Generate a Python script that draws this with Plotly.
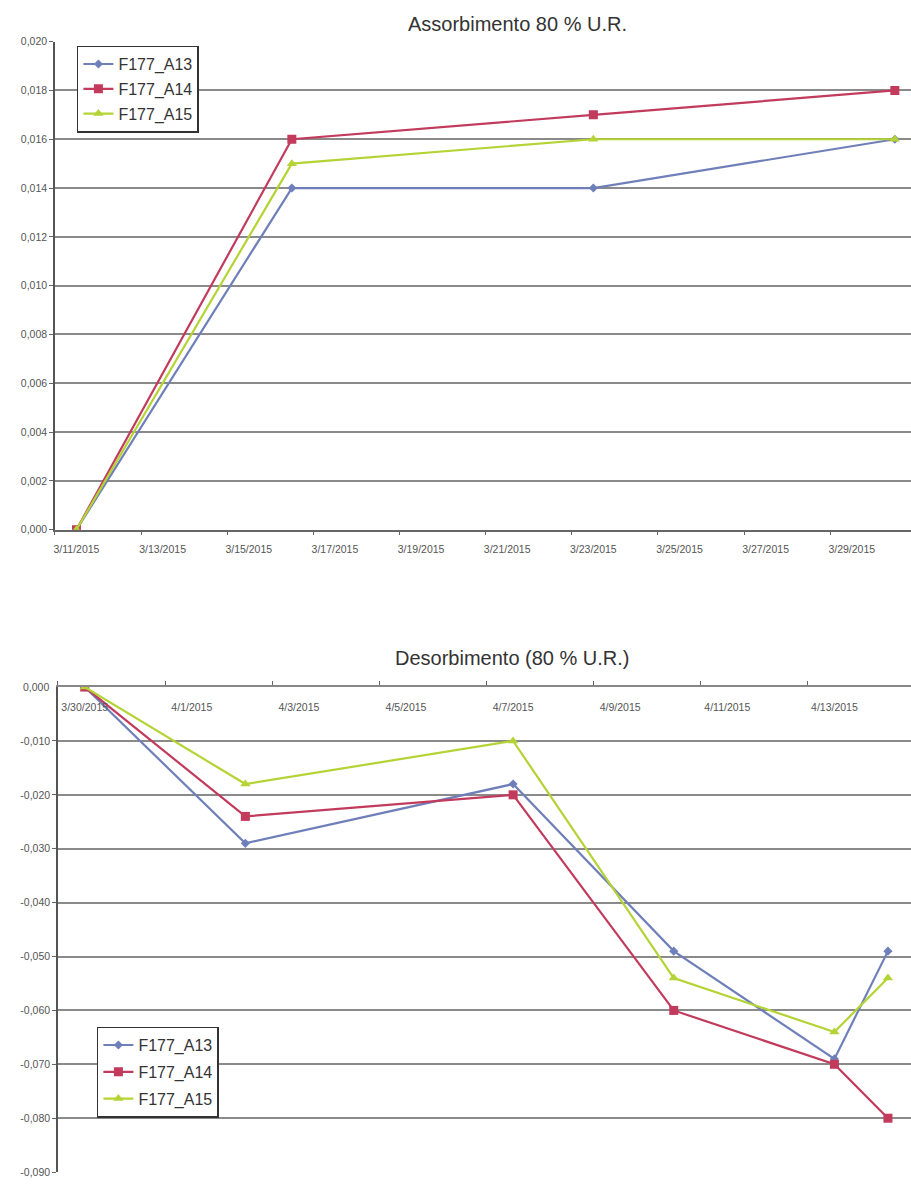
import pandas as pd
import plotly.graph_objects as go

# ---------------- data ----------------
series_names = ["F177_A13", "F177_A14", "F177_A15"]

abs_dates = ["2015-03-11", "2015-03-16", "2015-03-23", "2015-03-30"]
abs_A13 = [0.000, 0.014, 0.014, 0.016]
abs_A14 = [0.000, 0.016, 0.017, 0.018]
abs_A15 = [0.000, 0.015, 0.016, 0.016]

des_dates = ["2015-03-30", "2015-04-02", "2015-04-07", "2015-04-10", "2015-04-13", "2015-04-14"]
des_A13 = [0.000, -0.029, -0.018, -0.049, -0.069, -0.049]
des_A14 = [0.000, -0.024, -0.020, -0.060, -0.070, -0.080]
des_A15 = [0.000, -0.018, -0.010, -0.054, -0.064, -0.054]

abs_tick_dates = ["2015-03-11", "2015-03-13", "2015-03-15", "2015-03-17", "2015-03-19",
                  "2015-03-21", "2015-03-23", "2015-03-25", "2015-03-27", "2015-03-29"]
abs_tick_text = ["3/11/2015", "3/13/2015", "3/15/2015", "3/17/2015", "3/19/2015",
                 "3/21/2015", "3/23/2015", "3/25/2015", "3/27/2015", "3/29/2015"]
des_tick_dates = ["2015-03-30", "2015-04-01", "2015-04-03", "2015-04-05", "2015-04-07",
                  "2015-04-09", "2015-04-11", "2015-04-13"]
des_tick_text = ["3/30/2015", "4/1/2015", "4/3/2015", "4/5/2015", "4/7/2015",
                 "4/9/2015", "4/11/2015", "4/13/2015"]

abs_y_vals = [0.000, 0.002, 0.004, 0.006, 0.008, 0.010, 0.012, 0.014, 0.016, 0.018, 0.020]
abs_y_text = ["0,000", "0,002", "0,004", "0,006", "0,008", "0,010", "0,012", "0,014", "0,016", "0,018", "0,020"]
des_y_vals = [0.000, -0.010, -0.020, -0.030, -0.040, -0.050, -0.060, -0.070, -0.080, -0.090]
des_y_text = ["0,000", "-0,010", "-0,020", "-0,030", "-0,040", "-0,050", "-0,060", "-0,070", "-0,080", "-0,090"]

title_abs = "Assorbimento 80 % U.R."
title_des = "Desorbimento (80 % U.R.)"

# ---------------- style ----------------
colors = ["#6F7FB9", "#C23A5C", "#B4D334"]
symbols = ["diamond", "square", "triangle-up"]
msizes = [7, 9, 9]
W, H = 911, 1188
HALF = pd.Timedelta(hours=12)   # Excel plots each day at its centre


def centre(dates):
    return [pd.Timestamp(d) + HALF for d in dates]


def mid(dates):
    return [pd.Timestamp(d) for d in dates]


fig = go.Figure()
for i, ys in enumerate([abs_A13, abs_A14, abs_A15]):
    fig.add_trace(go.Scatter(
        x=centre(abs_dates), y=ys, name=series_names[i], mode="lines+markers",
        line=dict(color=colors[i], width=2.2),
        marker=dict(symbol=symbols[i], size=msizes[i], color=colors[i]),
        xaxis="x", yaxis="y", legend="legend", legendgroup="a%d" % i))
for i, ys in enumerate([des_A13, des_A14, des_A15]):
    fig.add_trace(go.Scatter(
        x=centre(des_dates), y=ys, name=series_names[i], mode="lines+markers",
        line=dict(color=colors[i], width=2.2),
        marker=dict(symbol=symbols[i], size=msizes[i], color=colors[i]),
        xaxis="x2", yaxis="y2", legend="legend2", legendgroup="d%d" % i))

tickfont = dict(family="Liberation Sans, Arial, sans-serif", size=10.5, color="#555")
gridc = "#8a8a8a"

fig.update_layout(
    width=W, height=H,
    margin=dict(l=0, r=0, t=0, b=0),
    paper_bgcolor="white", plot_bgcolor="white",
    font=dict(family="Liberation Sans, Arial, sans-serif", color="#333"),
    xaxis=dict(domain=[54 / W, 1], type="date",
               range=["2015-03-11 00:00", "2015-03-30 21:00"],
               tickmode="array", tickvals=centre(abs_tick_dates), ticktext=abs_tick_text,
               ticks="", tickfont=tickfont, showgrid=False, ticklabelstandoff=9,
               showline=True, linecolor="#666", linewidth=1.5,
               minor=dict(tickmode="array", tickvals=mid(abs_tick_dates), ticks="outside",
                          ticklen=4, tickcolor="#666", tickwidth=1, showgrid=False),
               anchor="y"),
    yaxis=dict(domain=[1 - 529 / H, 1 - 36 / H], range=[0, 0.020],
               tickmode="array", tickvals=abs_y_vals, ticktext=abs_y_text,
               ticks="outside", ticklen=4, tickcolor="#666", tickfont=tickfont,
               showgrid=True, gridcolor=gridc, gridwidth=1.8,
               showline=True, linecolor="#555", linewidth=1.5,
               zeroline=False, anchor="x"),
    xaxis2=dict(domain=[57 / W, 1], type="date",
                range=["2015-03-30 00:00", "2015-04-14 22:20"],
                side="top", ticklabelposition="inside", ticklabelstandoff=16,
                tickmode="array", tickvals=centre(des_tick_dates), ticktext=des_tick_text,
                ticks="", tickfont=tickfont, showgrid=False,
                showline=True, linecolor="#888", linewidth=1.5,
                minor=dict(tickmode="array", tickvals=mid(des_tick_dates), ticks="outside",
                           ticklen=4, tickcolor="#666", tickwidth=1, showgrid=False),
                anchor="y2"),
    yaxis2=dict(domain=[1 - 1178 / H, 1 - 688 / H], range=[-0.090, 0.0],
                tickmode="array", tickvals=des_y_vals, ticktext=des_y_text,
                ticks="outside", ticklen=4, tickcolor="#666", tickfont=tickfont,
                showgrid=True, gridcolor=gridc, gridwidth=1.8,
                showline=True, linecolor="#555", linewidth=1.5,
                zeroline=False, anchor="x2"),
    legend=dict(x=76 / W, y=1 - 40 / H, xanchor="left", yanchor="top",
                bgcolor="white", bordercolor="#333", borderwidth=1.5,
                font=dict(size=16, color="#333"), tracegroupgap=1),
    legend2=dict(x=96 / W, y=1 - 1031 / H, xanchor="left", yanchor="top",
                 bgcolor="white", bordercolor="#333", borderwidth=1.5,
                 font=dict(size=16, color="#333"), tracegroupgap=3),
    annotations=[
        dict(text=title_abs, x=517 / W, y=1 - 18 / H, xref="paper", yref="paper",
             xanchor="center", yanchor="middle",
             showarrow=False, font=dict(size=20, color="#333")),
        dict(text=title_des, x=512 / W, y=1 - 659 / H, xref="paper", yref="paper",
             xanchor="center", yanchor="middle",
             showarrow=False, font=dict(size=20, color="#333")),
        # y2 label at 0 is hidden by plotly when the x2 labels sit inside; redraw it
        dict(text=des_y_text[0], x=57 / W - 7 / W, y=des_y_vals[0], xref="paper", yref="y2",
             xanchor="right", yanchor="middle", showarrow=False, font=tickfont),
    ],
)

fig.write_html("out.html", config={"displayModeBar": False},
               post_script="document.body.style.margin='0';document.body.style.overflow='hidden';")
